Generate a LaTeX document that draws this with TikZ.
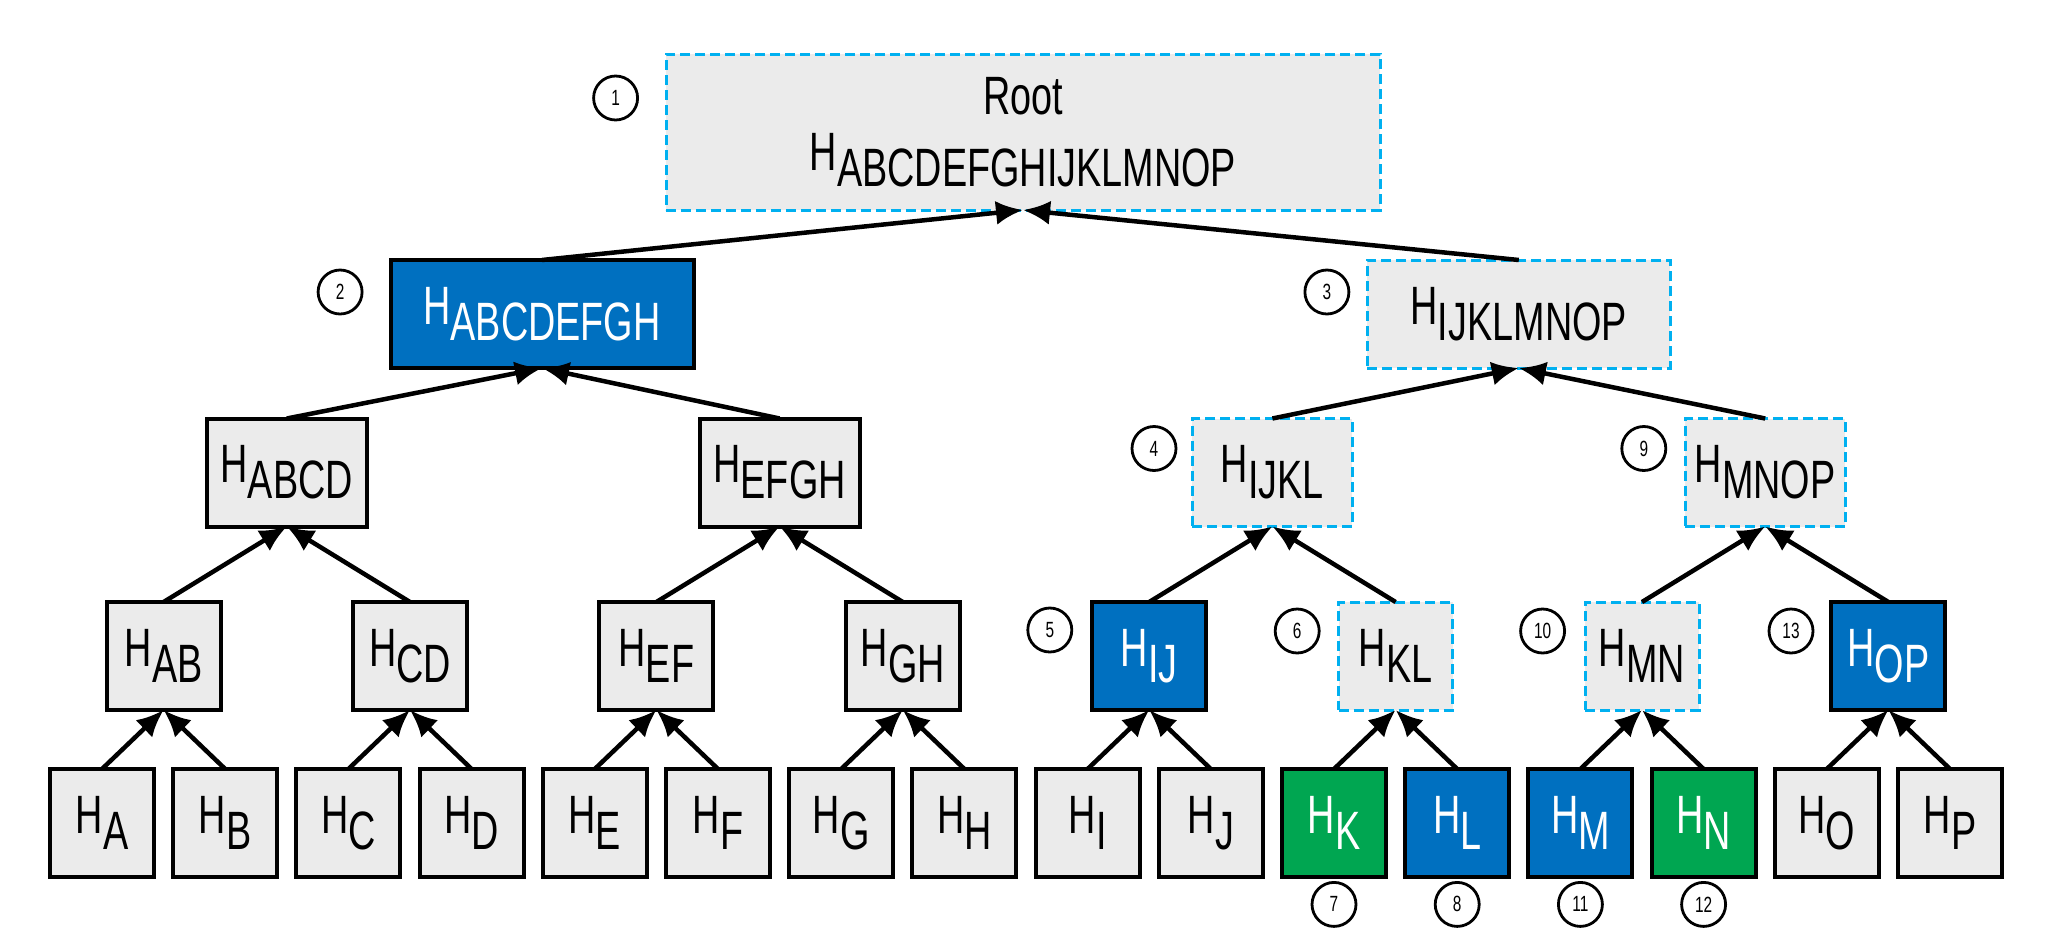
\documentclass[tikz,border=0pt]{standalone}
\usepackage{fontspec}
\setmainfont{Liberation Sans}[FakeStretch=0.7]
\usetikzlibrary{positioning,arrows.meta}

\definecolor{boxgrey}{HTML}{EBEBEB}
\definecolor{pathblue}{HTML}{00B0F0}
\definecolor{proofblue}{HTML}{0070C0}
\definecolor{proofgreen}{HTML}{00A651}

% hash label with lowered subscript
\newcommand{\hashof}[1]{H\raisebox{-16pt}{#1}}

\tikzset{
  hnode/.style={draw=black, line width=4pt, fill=boxgrey, inner sep=0pt, outer sep=0pt,
    minimum height=108pt, font=\fontsize{54}{56}\selectfont},
  dashnode/.style={hnode, draw=pathblue, line width=3pt, dash pattern=on 10pt off 5pt},
  bluenode/.style={hnode, fill=proofblue, text=white},
  greennode/.style={hnode, fill=proofgreen, text=white},
  numnode/.style={circle, draw=black, line width=2.8pt, minimum size=44pt, inner sep=0pt,
    font=\fontsize{22}{22}\selectfont},
  hasharrow/.style={line width=4.5pt, -{Latex[length=27pt,width=24pt]}}
}

\begin{document}
\begin{tikzpicture}[x=1pt, y=-1pt]

    \useasboundingbox (0,0) rectangle (2048,932);

    % Leaves
    \node[hnode, minimum width=104pt] (A) at (102, 823) {\hashof{A}};
    \node[hnode, minimum width=104pt] (B) at (225.2, 823) {\hashof{B}};
    \node[hnode, minimum width=104pt] (C) at (348.4, 823) {\hashof{C}};
    \node[hnode, minimum width=104pt] (D) at (471.6, 823) {\hashof{D}};
    \node[hnode, minimum width=104pt] (E) at (594.8, 823) {\hashof{E}};
    \node[hnode, minimum width=104pt] (F) at (718, 823) {\hashof{F}};
    \node[hnode, minimum width=104pt] (G) at (841.2, 823) {\hashof{G}};
    \node[hnode, minimum width=104pt] (H) at (964.4, 823) {\hashof{H}};
    \node[hnode, minimum width=104pt] (I) at (1087.6, 823) {\hashof{I}};
    \node[hnode, minimum width=104pt] (J) at (1210.8, 823) {\hashof{J}};
    \node[greennode, minimum width=104pt] (K) at (1334, 823) {\hashof{K}};
    \node[bluenode, minimum width=104pt] (L) at (1457.2, 823) {\hashof{L}};
    \node[bluenode, minimum width=104pt] (M) at (1580.4, 823) {\hashof{M}};
    \node[greennode, minimum width=104pt] (N) at (1703.6, 823) {\hashof{N}};
    \node[hnode, minimum width=104pt] (O) at (1826.8, 823) {\hashof{O}};
    \node[hnode, minimum width=104pt] (P) at (1950, 823) {\hashof{P}};

    % Pairs
    \node[hnode, minimum width=114pt] (AB) at (163.6, 656) {\hashof{AB}};
    \node[hnode, minimum width=114pt] (CD) at (410, 656) {\hashof{CD}};
    \node[hnode, minimum width=114pt] (EF) at (656.4, 656) {\hashof{EF}};
    \node[hnode, minimum width=114pt] (GH) at (902.8, 656) {\hashof{GH}};
    \node[bluenode, minimum width=114pt] (IJ) at (1149.2, 656) {\hashof{IJ}};
    \node[dashnode, minimum width=114pt] (KL) at (1395.6, 656) {\hashof{KL}};
    \node[dashnode, minimum width=114pt] (MN) at (1642, 656) {\hashof{MN}};
    \node[bluenode, minimum width=114pt] (OP) at (1888.4, 656) {\hashof{OP}};

    % Quads
    \node[hnode, minimum width=160pt] (ABCD) at (286.8, 472.5) {\hashof{ABCD}};
    \node[hnode, minimum width=160pt] (EFGH) at (779.6, 472.5) {\hashof{EFGH}};
    \node[dashnode, minimum width=160pt] (IJKL) at (1272.4, 472.5) {\hashof{IJKL}};
    \node[dashnode, minimum width=160pt] (MNOP) at (1765.2, 472.5) {\hashof{MNOP}};

    % Halves
    \node[bluenode, minimum width=303pt] (ABCDEFGH) at (542, 314) {\hashof{ABCDEFGH}};
    \node[dashnode, minimum width=303pt] (IJKLMNOP) at (1518.8, 314) {\hashof{IJKLMNOP}};

    % Root
    \node[dashnode, minimum width=714pt, minimum height=156pt, align=center] (Root) at (1023, 132)
        {Root\\\hashof{ABCDEFGHIJKLMNOP}};

    % Leaves to pairs
    \draw[hasharrow] (A.north) -- (AB.south);
    \draw[hasharrow] (B.north) -- (AB.south);
    \draw[hasharrow] (C.north) -- (CD.south);
    \draw[hasharrow] (D.north) -- (CD.south);
    \draw[hasharrow] (E.north) -- (EF.south);
    \draw[hasharrow] (F.north) -- (EF.south);
    \draw[hasharrow] (G.north) -- (GH.south);
    \draw[hasharrow] (H.north) -- (GH.south);
    \draw[hasharrow] (I.north) -- (IJ.south);
    \draw[hasharrow] (J.north) -- (IJ.south);
    \draw[hasharrow] (K.north) -- (KL.south);
    \draw[hasharrow] (L.north) -- (KL.south);
    \draw[hasharrow] (M.north) -- (MN.south);
    \draw[hasharrow] (N.north) -- (MN.south);
    \draw[hasharrow] (O.north) -- (OP.south);
    \draw[hasharrow] (P.north) -- (OP.south);

    % Pairs to quads
    \draw[hasharrow] (AB.north) -- (ABCD.south);
    \draw[hasharrow] (CD.north) -- (ABCD.south);
    \draw[hasharrow] (EF.north) -- (EFGH.south);
    \draw[hasharrow] (GH.north) -- (EFGH.south);
    \draw[hasharrow] (IJ.north) -- (IJKL.south);
    \draw[hasharrow] (KL.north) -- (IJKL.south);
    \draw[hasharrow] (MN.north) -- (MNOP.south);
    \draw[hasharrow] (OP.north) -- (MNOP.south);

    % Quads to halves
    \draw[hasharrow] (ABCD.north) -- (ABCDEFGH.south);
    \draw[hasharrow] (EFGH.north) -- (ABCDEFGH.south);
    \draw[hasharrow] (IJKL.north) -- (IJKLMNOP.south);
    \draw[hasharrow] (MNOP.north) -- (IJKLMNOP.south);

    % Halves to root
    \draw[hasharrow] (ABCDEFGH.north) -- (Root.south);
    \draw[hasharrow] (IJKLMNOP.north) -- (Root.south);

    % Step numbers
    \node[numnode, left=27pt of Root.north west, yshift=-44pt] (c1) {1};
    \node[numnode, left=27pt of ABCDEFGH.north west, yshift=-32pt] (c2) {2};
    \node[numnode, left=17pt of IJKLMNOP.north west, yshift=-32pt] (c3) {3};
    \node[numnode, left=15pt of IJKL.north west, yshift=-30pt] (c4) {4};
    \node[numnode, left=19pt of IJ.north west, yshift=-28pt] (c5) {5};
    \node[numnode, left=18pt of KL.north west, yshift=-29pt] (c6) {6};
    \node[numnode, below=4pt of K] (c7) {7};
    \node[numnode, below=4pt of L] (c8) {8};
    \node[numnode, left=18pt of MNOP.north west, yshift=-30pt] (c9) {9};
    \node[numnode, left=19pt of MN.north west, yshift=-29pt] (c10) {10};
    \node[numnode, below=4pt of M] (c11) {11};
    \node[numnode, below=4pt of N] (c12) {12};
    \node[numnode, left=17pt of OP.north west, yshift=-29pt] (c13) {13};

\end{tikzpicture}
\end{document}
